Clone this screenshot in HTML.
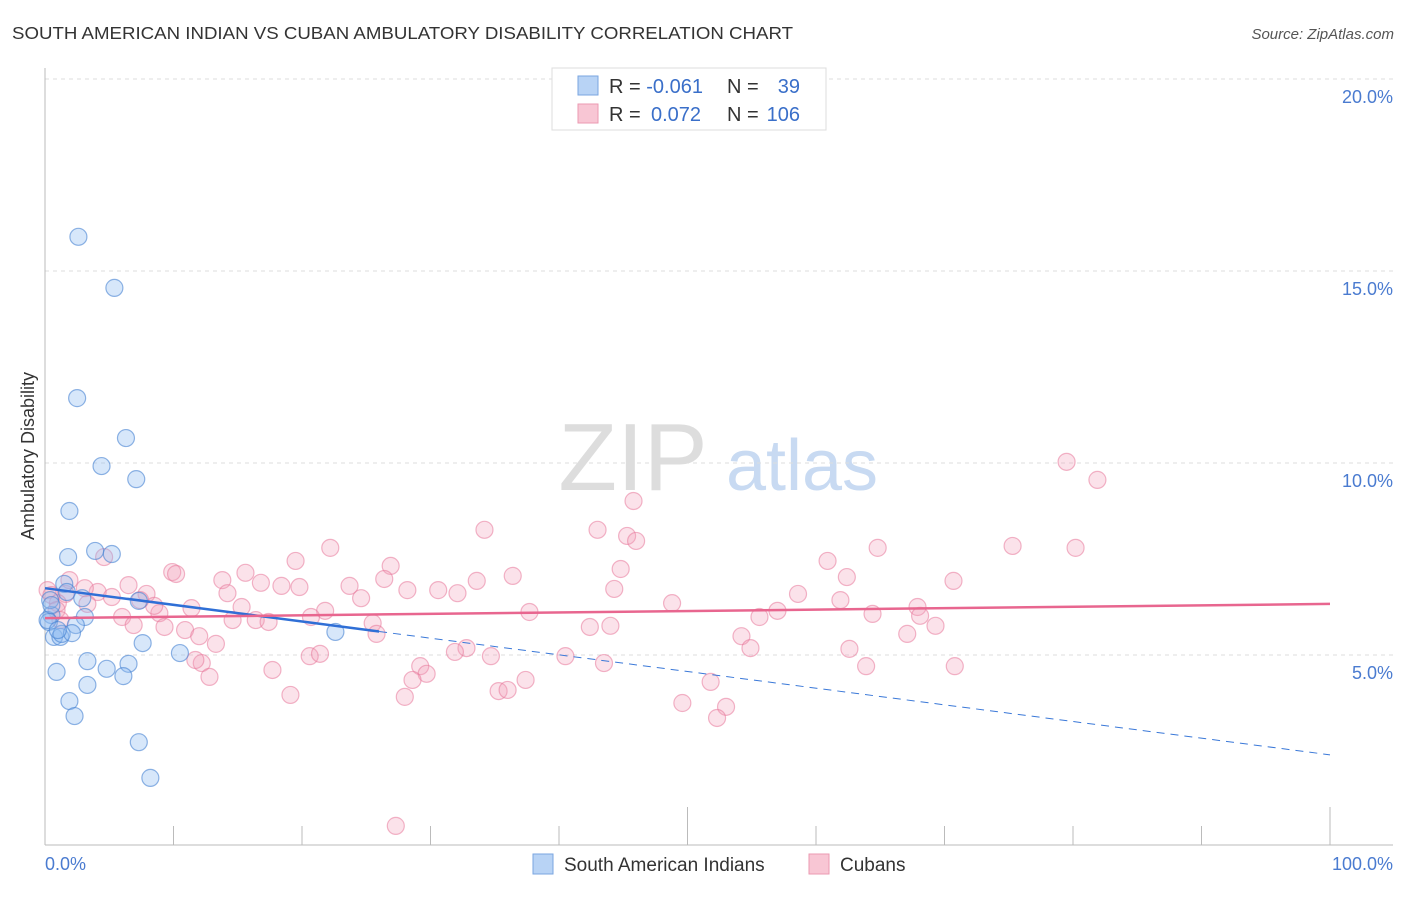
<!DOCTYPE html>
<html><head><meta charset="utf-8"><style>
body{margin:0;background:#fff;font-family:"Liberation Sans",sans-serif}
svg text{font-family:"Liberation Sans",sans-serif}
</style></head><body>
<svg id="chart" width="1406" height="892" xmlns="http://www.w3.org/2000/svg">
<text x="12" y="39" font-size="17.5" fill="#333" textLength="781" lengthAdjust="spacingAndGlyphs">SOUTH AMERICAN INDIAN VS CUBAN AMBULATORY DISABILITY CORRELATION CHART</text>
<text x="1394" y="39" font-size="15" fill="#555" text-anchor="end" font-style="italic">Source: ZipAtlas.com</text>
<g>
<text x="633" y="490" font-size="96" fill="#ddd" font-family="Liberation Serif,serif" text-anchor="middle">ZIP</text>
<text x="802" y="490" font-size="72" fill="#c8daf2" text-anchor="middle">atlas</text>
</g>
<g id="grid"></g>
<g id="axes"></g>
<g id="marks"></g>
<text transform="translate(34,456) rotate(-90)" font-size="18" fill="#333" text-anchor="middle">Ambulatory Disability</text>
<text x="45" y="870" font-size="18" fill="#4a7bd0">0.0%</text>
<text x="1393" y="870" font-size="18" fill="#4a7bd0" text-anchor="end">100.0%</text>
<g>
<rect x="552" y="68" width="274" height="62" fill="#fff" stroke="#ddd"/>
<rect x="578" y="76" width="20" height="19" fill="#b8d3f5" stroke="#7aa6e0"/>
<rect x="578" y="104" width="20" height="19" fill="#f8c6d4" stroke="#eb9ab2"/>
<text x="609" y="93" font-size="20" fill="#333">R = <tspan fill="#3a6fc9">-0.061</tspan></text>
<text x="727" y="93" font-size="20" fill="#333">N = </text><text x="800" y="93" font-size="20" fill="#3a6fc9" text-anchor="end">39</text>
<text x="609" y="121" font-size="20" fill="#333">R = </text><text x="651" y="121" font-size="20" fill="#3a6fc9">0.072</text>
<text x="727" y="121" font-size="20" fill="#333">N = </text><text x="800" y="121" font-size="20" fill="#3a6fc9" text-anchor="end">106</text>
</g>
<g>
<rect x="533" y="854" width="20" height="20" fill="#b8d3f5" stroke="#7aa6e0"/>
<text x="564" y="871" font-size="19" fill="#333">South American Indians</text>
<rect x="809" y="854" width="20" height="20" fill="#f8c6d4" stroke="#eb9ab2"/>
<text x="840" y="871" font-size="19" fill="#333">Cubans</text>
</g>
</svg>
<script>
const yTicks=[5,10,15,20];
const yTickLabels=["5.0%","10.0%","15.0%","20.0%"];
const xTicks=[0,10,20,30,40,50,60,70,80,90,100];
const blueX=[2.6,5.4,2.5,6.3,4.4,7.1,1.9,1.8,3.9,5.2,1.5,1.7,2.9,7.3,3.1,0.5,0.3,2.4,0.7,1.2,1.3,2.1,7.6,22.6,10.5,3.3,6.5,4.8,6.1,0.9,3.3,1.9,2.3,7.3,8.2,0.2,0.4,0.5,1.0];
const blueY=[15.89,14.56,11.69,10.65,9.92,9.58,8.75,7.55,7.71,7.63,6.85,6.64,6.48,6.41,5.99,6.04,5.86,5.78,5.47,5.47,5.55,5.57,5.31,5.6,5.05,4.84,4.77,4.64,4.45,4.56,4.22,3.8,3.41,2.73,1.8,5.91,6.43,6.3,5.65];
const pinkX=[27.3,79.5,81.9,45.8,34.2,43.0,45.3,46.0,75.3,80.2,64.8,22.2,19.5,26.9,60.9,9.9,15.6,10.2,36.4,44.8,62.4,70.7,26.4,13.8,23.7,16.8,33.6,18.4,19.8,6.5,28.2,30.6,32.1,44.3,58.6,7.9,4.1,1.6,3.1,5.2,1.0,3.3,24.6,14.2,61.9,48.8,11.4,15.3,37.7,21.8,67.9,57.0,20.7,55.6,6.0,8.9,8.5,14.6,16.4,17.4,64.4,68.1,69.3,6.9,9.3,25.5,10.9,42.4,44.0,25.8,12.0,54.2,67.1,13.3,32.8,31.9,54.9,20.6,34.7,62.6,40.5,21.4,12.2,29.2,43.5,63.9,70.8,17.7,29.7,12.8,28.6,37.4,51.8,35.3,36.0,19.1,28.0,49.6,53.0,52.3,0.2,0.5,0.9,1.2,1.9,4.6,7.4,11.7];
const pinkY=[0.55,10.03,9.56,9.01,8.26,8.26,8.10,7.97,7.84,7.79,7.79,7.79,7.45,7.32,7.45,7.16,7.14,7.11,7.06,7.24,7.03,6.93,6.98,6.95,6.80,6.88,6.93,6.80,6.77,6.82,6.69,6.69,6.61,6.72,6.59,6.59,6.64,6.59,6.74,6.51,6.35,6.33,6.48,6.61,6.43,6.35,6.22,6.25,6.12,6.15,6.25,6.15,5.99,5.99,5.99,6.09,6.28,5.91,5.91,5.86,6.07,6.02,5.76,5.78,5.73,5.83,5.65,5.73,5.76,5.55,5.49,5.49,5.55,5.29,5.18,5.08,5.18,4.97,4.97,5.16,4.97,5.03,4.79,4.71,4.79,4.71,4.71,4.61,4.51,4.43,4.35,4.35,4.30,4.06,4.09,3.96,3.91,3.75,3.65,3.36,6.69,6.56,6.17,5.91,6.95,7.55,6.43,4.87];
const blueTrend=[6.74,2.40];
const blueSolidEnd=26;
const pinkTrend=[5.96,6.33];

const NS="http://www.w3.org/2000/svg";
const xS=v=>45+v*12.85;
const yS=v=>847-v*38.4;
function mk(tag,attrs,parent){const e=document.createElementNS(NS,tag);for(const k in attrs)e.setAttribute(k,attrs[k]);parent.appendChild(e);return e;}
const grid=document.getElementById('grid'),axes=document.getElementById('axes'),marks=document.getElementById('marks');
yTicks.forEach((t,i)=>{
  const l=mk('line',{x1:45,x2:1393,y1:yS(t),y2:yS(t),stroke:'#ddd','stroke-dasharray':'4,4'},grid);
  
  
  const tx=mk('text',{x:1393,y:yS(t)+24,'font-size':18,fill:'#4a7bd0','text-anchor':'end'},grid);
  tx.textContent=yTickLabels[i];
  
  
});
const ya=mk('line',{x1:45,x2:45,y1:68,y2:845,stroke:'#bbb'},axes);


const xa=mk('line',{x1:45,x2:1393,y1:845,y2:845,stroke:'#bbb'},axes);


xTicks.forEach(t=>{
  const tk=mk('line',{x1:xS(t),x2:xS(t),y1:t%50===0?807:826,y2:845,stroke:'#bbb'},axes);
  
  
});
pinkX.forEach((x,i)=>{
  const c=mk('circle',{cx:xS(x),cy:yS(pinkY[i]),r:8.5,fill:'rgba(243,160,185,0.3)',stroke:'rgba(232,120,155,0.55)','stroke-width':1.2},marks);
  
  
});
blueX.forEach((x,i)=>{
  const c=mk('circle',{cx:xS(x),cy:yS(blueY[i]),r:8.5,fill:'rgba(140,185,240,0.35)',stroke:'rgba(70,130,210,0.6)','stroke-width':1.2},marks);
  
  
});
const bAt=x=>blueTrend[0]+(blueTrend[1]-blueTrend[0])*x/100;
const bd=mk('line',{x1:xS(blueSolidEnd),y1:yS(bAt(blueSolidEnd)),x2:xS(100),y2:yS(blueTrend[1]),stroke:'#3a78d8','stroke-width':1,'stroke-dasharray':'8,6'},marks);


const bs=mk('line',{x1:xS(0),y1:yS(blueTrend[0]),x2:xS(blueSolidEnd),y2:yS(bAt(blueSolidEnd)),stroke:'#2f6fd6','stroke-width':2.5},marks);


const pl=mk('line',{x1:xS(0),y1:yS(pinkTrend[0]),x2:xS(100),y2:yS(pinkTrend[1]),stroke:'#e8668f','stroke-width':2.5},marks);


</script>
</body></html>
